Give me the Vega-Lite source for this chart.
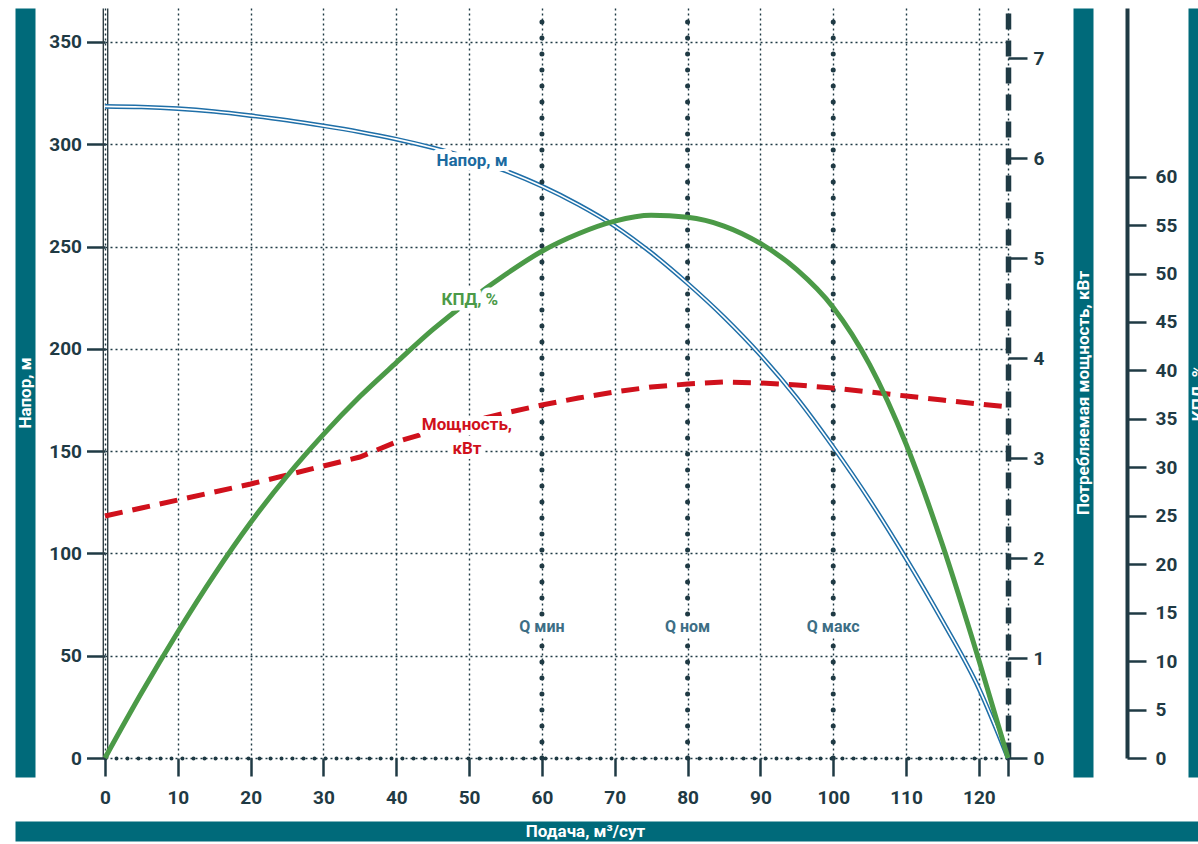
{
  "$schema": "https://vega.github.io/schema/vega-lite/v6.json",
  "width": 903,
  "height": 750,
  "autosize": {"type": "none"},
  "padding": {"left": 105, "top": 8, "right": 190, "bottom": 86},
  "background": "white",
  "config": {
    "view": {"stroke": null},
    "font": "Roboto",
    "axis": {
      "labelFont": "Roboto", "labelFontWeight": "bold", "labelFontSize": 19, "labelColor": "#1f3a44",
      "tickColor": "#1f3a44", "tickWidth": 2.5, "tickSize": 18,
      "domainColor": "#1f3a44",
      "titleFont": "Roboto", "titleFontWeight": "bold", "titleFontSize": 17, "titleColor": "white",
      "gridColor": "#1f3a44", "gridDash": [2, 3], "gridWidth": 1.4, "grid": false,
      "labelFlush": false, "labelOverlap": false
    }
  },
  "datasets": {
    "curves": [
      {"q": 0, "head": 318.5, "power": 2.42, "eff": 0},
      {"q": 5, "head": 318.2, "power": 2.5, "eff": 6.7},
      {"q": 10, "head": 317.4, "power": 2.58, "eff": 13},
      {"q": 15, "head": 316, "power": 2.66, "eff": 18.9},
      {"q": 20, "head": 314, "power": 2.74, "eff": 24.3},
      {"q": 25, "head": 311.7, "power": 2.83, "eff": 29.1},
      {"q": 30, "head": 309, "power": 2.92, "eff": 33.4},
      {"q": 35, "head": 306, "power": 3.01, "eff": 37.3},
      {"q": 40, "head": 302.5, "power": 3.16, "eff": 40.8},
      {"q": 45, "head": 298.3, "power": 3.27, "eff": 44.2},
      {"q": 50, "head": 293.3, "power": 3.36, "eff": 47.2},
      {"q": 55, "head": 287, "power": 3.45, "eff": 49.9},
      {"q": 60, "head": 279.5, "power": 3.53, "eff": 52.3},
      {"q": 65, "head": 270.5, "power": 3.6, "eff": 54.1},
      {"q": 70, "head": 260, "power": 3.66, "eff": 55.4},
      {"q": 75, "head": 247, "power": 3.71, "eff": 56.0},
      {"q": 80, "head": 232, "power": 3.74, "eff": 55.8},
      {"q": 85, "head": 215.5, "power": 3.76, "eff": 54.9},
      {"q": 90, "head": 197, "power": 3.75, "eff": 53.1},
      {"q": 95, "head": 176, "power": 3.73, "eff": 50.4},
      {"q": 100, "head": 152, "power": 3.7, "eff": 46.5},
      {"q": 105, "head": 126, "power": 3.66, "eff": 40.6},
      {"q": 110, "head": 97.5, "power": 3.62, "eff": 32.4},
      {"q": 115, "head": 67, "power": 3.58, "eff": 22},
      {"q": 120, "head": 34, "power": 3.54, "eff": 10.1},
      {"q": 124, "head": 0, "power": 3.51, "eff": 0}
    ],
    "qmarks": [
      {"q": 60, "label": "Q мин"},
      {"q": 80, "label": "Q ном"},
      {"q": 100, "label": "Q макс"}
    ]
  },
  "layer": [
    {
      "data": {"name": "curves"},
      "encoding": {
        "x": {"field": "q", "type": "quantitative", "scale": {"domain": [0, 124], "nice": false, "zero": false},
          "axis": {"values": [0, 10, 20, 30, 40, 50, 60, 70, 80, 90, 100, 110, 120, 124],
            "labelExpr": "datum.value == 124 ? '' : datum.label",
            "grid": true, "domainDash": [0, 11], "domainCap": "round", "domainWidth": 4,
            "tickSize": 18, "labelPadding": 12, "title": null}},
        "y": {"field": "head", "type": "quantitative", "scale": {"domain": [0, 366.6], "nice": false, "zero": false},
          "axis": {"values": [0, 50, 100, 150, 200, 250, 300, 350], "grid": true, "domain": false,
            "tickSize": 18.5, "labelPadding": 5, "title": null}}
      },
      "layer": [
        {
          "data": {"values": [{"zone": "Q мин – Q макс"}]},
          "mark": {"type": "rect", "fill": "#668e9b", "fillOpacity": 0.15},
          "encoding": {"x": {"datum": 60}, "x2": {"datum": 100}, "y": {"datum": 0}, "y2": {"datum": 366.6}}
        },
        {"mark": {"type": "line", "stroke": "#1f6fa8", "strokeWidth": 4.6, "interpolate": "monotone"}},
        {"mark": {"type": "line", "stroke": "white", "strokeWidth": 1.6, "interpolate": "monotone"}}
      ]
    },
    {
      "data": {"name": "qmarks"},
      "mark": {"type": "rule", "stroke": "#1f3a44", "strokeWidth": 5, "strokeDash": [0, 16], "strokeCap": "round"},
      "encoding": {
        "x": {"field": "q", "type": "quantitative",
          "scale": {"domain": [-12.359, 150.09], "range": [-90, 1093], "nice": false, "zero": false},
          "axis": {"orient": "bottom", "offset": 73, "domainWidth": 20, "domainColor": "#006a7a", "domainCap": "butt",
            "ticks": false, "labels": false, "grid": false, "minExtent": 0,
            "title": "Подача, м³/сут", "titleBaseline": "middle", "titlePadding": 0, "titleX": 480}},
        "y": {"datum": 0, "scale": {"domain": [0, 366.6], "nice": false, "zero": false},
          "axis": {"orient": "left", "offset": -2.2, "domainWidth": 1.4, "domainColor": "#2f3f45",
            "ticks": false, "labels": false, "grid": false, "title": null, "minExtent": 0}},
        "y2": {"datum": 366.6}
      }
    },
    {
      "data": {"name": "qmarks"},
      "encoding": {
        "x": {"field": "q", "type": "quantitative", "scale": {"domain": [0, 124], "nice": false, "zero": false}, "axis": null},
        "y": {"datum": 64, "scale": {"domain": [0, 366.6], "nice": false, "zero": false},
          "axis": {"orient": "left", "offset": 2.2, "domainWidth": 1.4, "domainColor": "#2f3f45",
            "ticks": false, "labels": false, "grid": false, "title": null, "minExtent": 0}}
      },
      "layer": [
        {"mark": {"type": "rect", "width": 62, "height": 19, "fill": "white"}},
        {"mark": {"type": "text", "font": "Roboto", "fontWeight": "bold", "fontSize": 16, "color": "#3d6e85", "align": "center", "baseline": "middle"},
          "encoding": {"text": {"field": "label"}}}
      ]
    },
    {
      "data": {"values": [{"label": "Напор, м", "q": 50.4, "head": 292}]},
      "encoding": {
        "x": {"field": "q", "type": "quantitative", "scale": {"domain": [0, 124], "nice": false, "zero": false}, "axis": null},
        "y": {"field": "head", "type": "quantitative",
          "scale": {"domain": [-9.29, 366.6], "range": [769, 0], "nice": false, "zero": false},
          "axis": {"orient": "left", "offset": 80, "domainWidth": 20, "domainColor": "#006a7a", "domainCap": "butt",
            "ticks": false, "labels": false, "grid": false, "minExtent": 0,
            "title": "Напор, м", "titleBaseline": "middle", "titlePadding": 0, "titleAngle": 270}},
        "text": {"field": "label"}
      },
      "layer": [
        {"mark": {"type": "text", "font": "Roboto", "fontWeight": "bold", "fontSize": 17, "fill": "white", "stroke": "white", "strokeWidth": 10, "strokeJoin": "round", "align": "center", "baseline": "middle"}},
        {"mark": {"type": "text", "font": "Roboto", "fontWeight": "bold", "fontSize": 17, "color": "#1a6aa0", "align": "center", "baseline": "middle"}}
      ]
    },
    {
      "data": {"name": "curves"},
      "mark": {"type": "line", "stroke": "#d0111c", "strokeWidth": 5, "strokeDash": [18, 10]},
      "encoding": {
        "x": {"field": "q", "type": "quantitative", "scale": {"domain": [0, 124], "nice": false, "zero": false}, "axis": null},
        "y": {"field": "power", "type": "quantitative", "scale": {"domain": [0, 7.5], "nice": false, "zero": false},
          "axis": {"orient": "right", "values": [0, 1, 2, 3, 4, 5, 6, 7], "domainDash": [16, 11], "domainWidth": 5.5,
            "tickSize": 19, "labelPadding": 6, "grid": false, "title": null}}
      }
    },
    {
      "data": {"values": [{"label": "Мощность,\nкВт", "q": 49.7, "power": 3.33}]},
      "encoding": {
        "x": {"field": "q", "type": "quantitative", "scale": {"domain": [0, 124], "nice": false, "zero": false}, "axis": null},
        "y": {"field": "power", "type": "quantitative",
          "scale": {"domain": [-0.19, 7.5], "range": [769, 0], "nice": false, "zero": false},
          "axis": {"orient": "right", "offset": 75, "domainWidth": 20, "domainColor": "#006a7a", "domainCap": "butt",
            "ticks": false, "labels": false, "grid": false, "minExtent": 0,
            "title": "Потребляемая мощность, кВт", "titleBaseline": "middle", "titlePadding": 0, "titleAngle": 270}},
        "text": {"field": "label"}
      },
      "layer": [
        {"mark": {"type": "text", "font": "Roboto", "fontWeight": "bold", "fontSize": 17, "fill": "white", "stroke": "white", "strokeWidth": 10, "strokeJoin": "round", "align": "center", "baseline": "middle", "lineBreak": "\n", "lineHeight": 24}},
        {"mark": {"type": "text", "font": "Roboto", "fontWeight": "bold", "fontSize": 17, "color": "#d0111c", "align": "center", "baseline": "middle", "lineBreak": "\n", "lineHeight": 24}}
      ]
    },
    {
      "data": {"name": "curves"},
      "mark": {"type": "line", "stroke": "#4b9a47", "strokeWidth": 5, "interpolate": "monotone"},
      "encoding": {
        "x": {"field": "q", "type": "quantitative", "scale": {"domain": [0, 124], "nice": false, "zero": false}, "axis": null},
        "y": {"field": "eff", "type": "quantitative", "scale": {"domain": [0, 77.4], "nice": false, "zero": false},
          "axis": {"orient": "right", "offset": 119, "values": [0, 5, 10, 15, 20, 25, 30, 35, 40, 45, 50, 55, 60],
            "domainWidth": 4, "tickSize": 19, "labelPadding": 9, "grid": false, "title": null}}
      }
    },
    {
      "data": {"values": [{"label": "КПД, %", "q": 50.1, "eff": 47.3}]},
      "encoding": {
        "x": {"field": "q", "type": "quantitative", "scale": {"domain": [0, 124], "nice": false, "zero": false}, "axis": null},
        "y": {"field": "eff", "type": "quantitative",
          "scale": {"domain": [-1.96, 77.4], "range": [769, 0], "nice": false, "zero": false},
          "axis": {"orient": "right", "offset": 190, "domainWidth": 20, "domainColor": "#006a7a", "domainCap": "butt",
            "ticks": false, "labels": false, "grid": false, "minExtent": 0,
            "title": "КПД, %", "titleBaseline": "middle", "titlePadding": 0, "titleAngle": 270}},
        "text": {"field": "label"}
      },
      "layer": [
        {"mark": {"type": "text", "font": "Roboto", "fontWeight": "bold", "fontSize": 17, "fill": "white", "stroke": "white", "strokeWidth": 11, "strokeJoin": "round", "align": "center", "baseline": "middle"}},
        {"mark": {"type": "text", "font": "Roboto", "fontWeight": "bold", "fontSize": 17, "color": "#4b9a47", "align": "center", "baseline": "middle"}}
      ]
    }
  ],
  "resolve": {"scale": {"x": "independent", "y": "independent"}}
}
